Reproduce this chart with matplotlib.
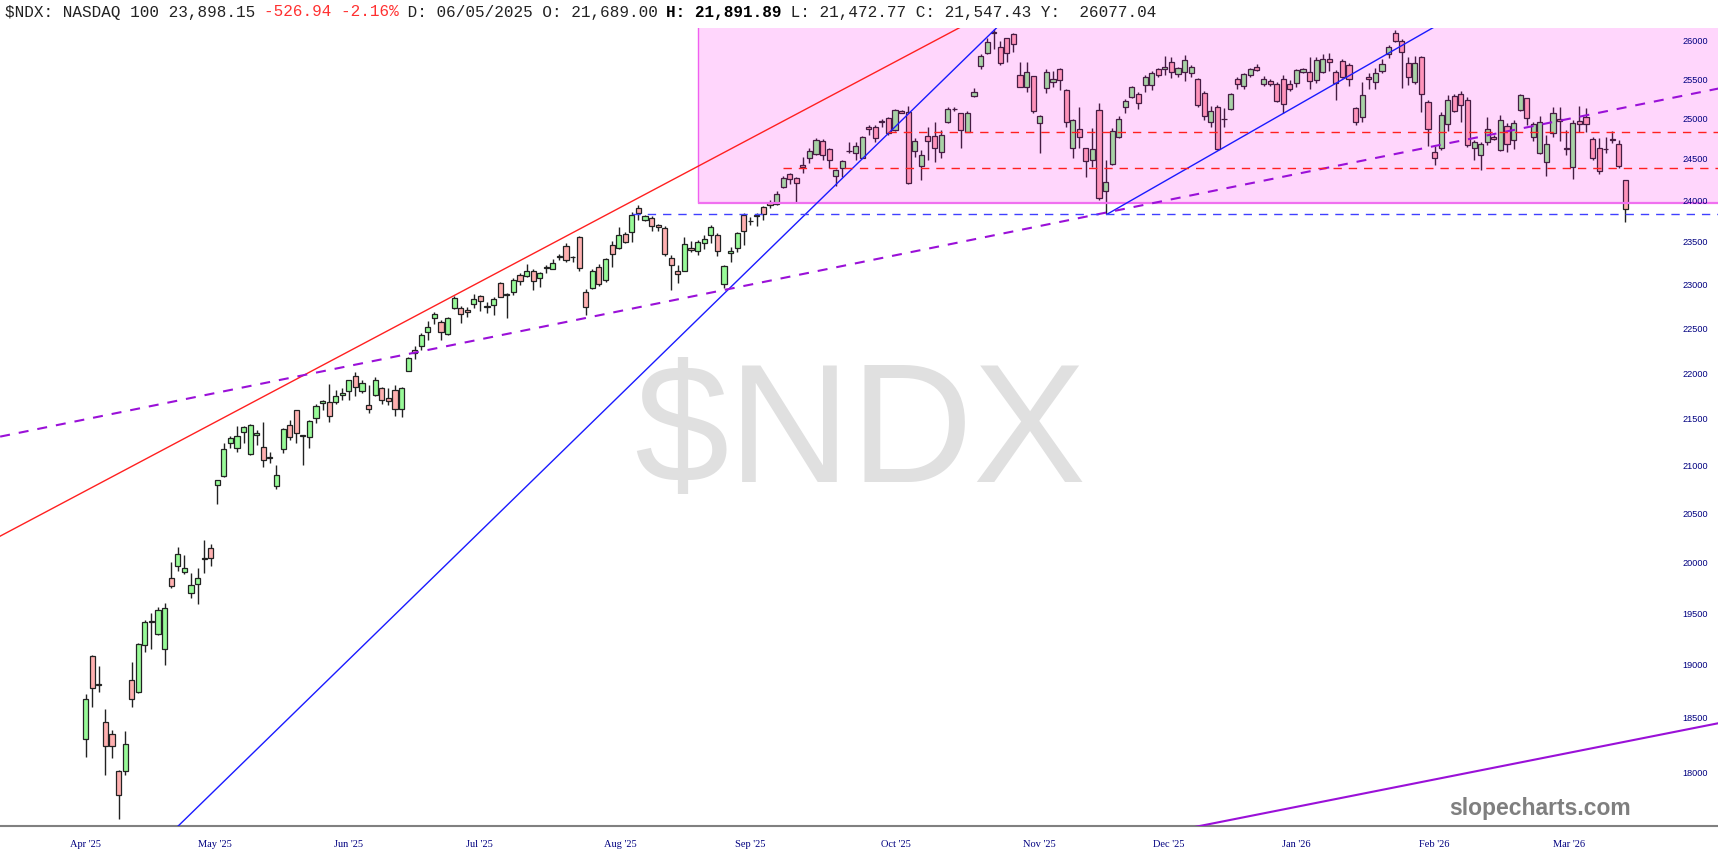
"""
NDX daily candles with trendlines, slopecharts style
"""

import numpy as np
import matplotlib
matplotlib.use("Agg")
import matplotlib.pyplot as plt
from matplotlib.patches import Rectangle
from matplotlib.transforms import blended_transform_factory

# daily OHLC (first candle = Apr 11 2025)
opens = [
    18310, 19090, 18820, 18470, 18360, 18020, 18025, 18865, 18750, 19200,
    19420, 19310, 19160, 19860, 19980, 19920, 19705, 19795, 20050, 20160,
    20810, 20900, 21250, 21195, 21370, 21130, 21335, 21210, 21095, 20800,
    21190, 21440, 21605, 21325, 21320, 21520, 21680, 21689, 21690, 21770,
    21810, 21985, 21815, 21665, 21770, 21850, 21735, 21825, 21620, 22040,
    22265, 22315, 22475, 22625, 22580, 22445, 22740, 22740, 22725, 22790,
    22880, 22755, 22775, 23030, 22890, 22925, 23120, 23110, 23170, 23085,
    23210, 23195, 23335, 23465, 23330, 23575, 22930, 22975, 23220, 23065,
    23470, 23445, 23610, 23635, 23920, 23775, 23795, 23710, 23680, 23325,
    23170, 23175, 23445, 23405, 23495, 23595, 23595, 23015, 23380, 23435,
    23835, 23755, 23815, 23925, 23980, 23960, 24165, 24330, 24275, 24440,
    24520, 24570, 24740, 24635, 24300, 24400, 24605, 24580, 24525, 24915,
    24915, 24970, 25020, 24870, 25115, 25100, 24615, 24430, 24800, 24800,
    24595, 24975, 25130, 25080, 24850, 25300, 25690, 25850, 26130, 25935,
    26045, 26100, 25570, 25420, 25555, 24960, 25405, 25485, 25650, 25375,
    24645, 24885, 24645, 24505, 25125, 24125, 24450, 24780, 25160, 25290,
    25330, 25440, 25435, 25645, 25645, 25740, 25580, 25610, 25590, 25515,
    25345, 24975, 25155, 25005, 25135, 25515, 25430, 25570, 25675, 25450,
    25495, 25455, 25515, 25455, 25465, 25610, 25605, 25505, 25610, 25770,
    25610, 25755, 25700, 25145, 25040, 25540, 25485, 25620, 25840, 26110,
    26015, 25730, 25475, 25795, 25230, 24600, 24645, 24950, 25300, 25320,
    25250, 24650, 24560, 24725, 24790, 24625, 24920, 24750, 25125, 25270,
    24790, 24580, 24480, 24840, 25010, 24640, 24415, 24990, 25040, 24760,
    24645, 24630, 24760, 24695, 24250,
]
highs = [
    18730, 19105, 19000, 18590, 18400, 18030, 18390, 19040, 19220, 19445,
    19510, 19575, 19610, 20015, 20170, 20090, 19910, 19955, 20240, 20200,
    20860, 21250, 21330, 21435, 21435, 21455, 21390, 21475, 21160, 21020,
    21415, 21500, 21610, 21340, 21500, 21675, 21715, 21892, 21825, 21845,
    21935, 22025, 21935, 21880, 21965, 21860, 21845, 21880, 21860, 22195,
    22315, 22455, 22590, 22700, 22610, 22645, 22880, 22765, 22760, 22905,
    22890, 22810, 22865, 23045, 22915, 23085, 23145, 23250, 23190, 23160,
    23240, 23310, 23370, 23495, 23340, 23580, 22960, 23190, 23250, 23320,
    23525, 23690, 23630, 23865, 23950, 23835, 23815, 23720, 23695, 23360,
    23235, 23570, 23525, 23535, 23595, 23715, 23615, 23240, 23455, 23630,
    23855, 23810, 23855, 23940, 24010, 24115, 24305, 24345, 24295, 24540,
    24645, 24770, 24760, 24650, 24390, 24505, 24725, 24725, 24800, 24935,
    24935, 25010, 25040, 25130, 25125, 25175, 24770, 24625, 24915, 24975,
    24870, 25155, 25155, 25090, 25115, 25400, 25835, 26045, 26165, 26015,
    26055, 26120, 25740, 25740, 25560, 25060, 25645, 25615, 25665, 25385,
    25015, 25155, 24650, 24895, 25215, 24505, 24895, 25050, 25260, 25430,
    25355, 25570, 25615, 25655, 25815, 25805, 25675, 25830, 25700, 25525,
    25365, 25175, 25185, 25145, 25340, 25540, 25590, 25665, 25710, 25560,
    25515, 25485, 25570, 25505, 25645, 25655, 25795, 25795, 25840, 25850,
    25635, 25770, 25720, 25165, 25485, 25590, 25665, 25775, 25955, 26155,
    26030, 25805, 25815, 25815, 25250, 24670, 25095, 25315, 25330, 25365,
    25290, 24750, 24725, 25040, 24810, 25060, 24960, 24995, 25325, 25280,
    24975, 25050, 24810, 25165, 25165, 24870, 24995, 25175, 25145, 24790,
    24770, 24780, 24860, 24750, 24260,
]
lows = [
    18150, 18610, 18750, 17990, 18140, 17590, 17985, 18615, 18740, 19130,
    19160, 19300, 19005, 19755, 19930, 19895, 19655, 19600, 19905, 19975,
    20610, 20890, 21195, 21160, 21250, 21125, 21230, 20995, 21035, 20770,
    21145, 21285, 21255, 21020, 21195, 21465, 21610, 21473, 21675, 21715,
    21715, 21760, 21790, 21580, 21760, 21675, 21665, 21540, 21530, 22035,
    22165, 22270, 22380, 22560, 22380, 22435, 22730, 22575, 22645, 22740,
    22715, 22685, 22665, 22865, 22635, 22895, 23010, 23100, 22945, 22990,
    23145, 23190, 23300, 23275, 23270, 23165, 22665, 22965, 23000, 23045,
    23215, 23430, 23500, 23510, 23775, 23755, 23640, 23640, 23340, 22950,
    23035, 23165, 23395, 23360, 23430, 23495, 23340, 22970, 23270, 23395,
    23475, 23710, 23695, 23775, 23910, 23950, 24155, 24200, 23990, 24335,
    24460, 24560, 24500, 24400, 24180, 24295, 24580, 24500, 24520, 24810,
    24720, 24915, 24810, 24865, 25085, 24205, 24540, 24255, 24500, 24480,
    24520, 24960, 25110, 24645, 24845, 25285, 25645, 25840, 25900, 25700,
    25740, 25870, 25415, 25355, 25090, 24590, 25340, 25420, 25375, 24905,
    24520, 24645, 24290, 24415, 24010, 23840, 24440, 24770, 25080, 25270,
    25140, 25355, 25375, 25545, 25570, 25525, 25545, 25495, 25545, 25160,
    24995, 24915, 24620, 24915, 25120, 25395, 25395, 25545, 25620, 25430,
    25430, 25230, 25080, 25365, 25420, 25590, 25385, 25460, 25590, 25620,
    25250, 25525, 25425, 24940, 24975, 25385, 25395, 25590, 25785, 26000,
    25405, 25440, 25450, 25100, 24670, 24440, 24620, 24855, 25095, 24975,
    24655, 24500, 24375, 24685, 24750, 24610, 24600, 24635, 25110, 24940,
    24735, 24570, 24305, 24790, 24735, 24560, 24270, 24850, 24850, 24500,
    24325, 24580, 24710, 24405, 23745,
]
closes = [
    18690, 18790, 18830, 18250, 18250, 17805, 18270, 18690, 19210, 19425,
    19430, 19540, 19560, 19780, 20095, 19960, 19785, 19860, 20060, 20055,
    20860, 21190, 21310, 21330, 21425, 21440, 21355, 21070, 21100, 20910,
    21405, 21315, 21355, 21335, 21485, 21650, 21710, 21547, 21755, 21790,
    21930, 21860, 21905, 21620, 21930, 21715, 21710, 21615, 21845, 22175,
    22235, 22435, 22525, 22670, 22470, 22635, 22855, 22675, 22695, 22850,
    22820, 22770, 22850, 22875, 22900, 23065, 23060, 23165, 23050, 23150,
    23220, 23260, 23340, 23300, 23335, 23205, 22755, 23170, 23015, 23305,
    23375, 23590, 23510, 23830, 23850, 23820, 23700, 23685, 23375, 23240,
    23135, 23485, 23420, 23515, 23550, 23690, 23405, 23225, 23405, 23620,
    23640, 23760, 23835, 23845, 23950, 24080, 24285, 24265, 24215, 24410,
    24615, 24750, 24565, 24500, 24375, 24490, 24615, 24670, 24790, 24880,
    24775, 24980, 24830, 25125, 25090, 24215, 24740, 24565, 24740, 24645,
    24805, 25130, 25135, 24870, 25080, 25350, 25815, 26000, 26110, 25720,
    25850, 25965, 25420, 25605, 25115, 25045, 25605, 25520, 25505, 24975,
    24995, 24790, 24490, 24630, 24040, 24230, 24860, 25010, 25235, 25420,
    25215, 25540, 25590, 25570, 25675, 25610, 25655, 25765, 25675, 25180,
    25050, 25115, 24630, 25010, 25330, 25450, 25580, 25645, 25635, 25515,
    25450, 25235, 25195, 25390, 25630, 25645, 25495, 25760, 25770, 25740,
    25460, 25540, 25515, 24975, 25315, 25515, 25590, 25710, 25925, 26015,
    25870, 25540, 25730, 25320, 24880, 24530, 25060, 25250, 25115, 25180,
    24680, 24720, 24695, 24885, 24755, 24995, 24695, 24960, 25315, 25025,
    24945, 24975, 24700, 25080, 24990, 24650, 24955, 24945, 24945, 24520,
    24370, 24640, 24745, 24425, 23898,
]

month_labels = ["Apr '25", "May '25", "Jun '25", "Jul '25", "Aug '25", "Sep '25",
                "Oct '25", "Nov '25", "Dec '25", "Jan '26", "Feb '26", "Mar '26"]
month_pos = [-0.1, 19.65, 40.0, 59.9, 81.3, 101.0, 123.1, 145.0, 164.6, 184.0, 204.9, 225.4]

price_ticks = list(range(18000, 26001, 500))

# drawn annotations: (bar index, price) end points
red_trend = ([-13.0, 139.0], [20280, 26470])
blue_trend = ([12.8, 139.0], [17460, 26230])
purple_channel = ([-13.0, 248.1], [21320, 25395])
blue_trend2 = ([155.2, 207.3], [23840, 26310])
purple_low = ([161.8, 248.1], [17445, 18460])
blue_level = (83, 23843)
red_level_hi = (122, 24845)
red_level_lo = (106, 24405)
box_left, box_low, box_high = 93.1, 23970, 27000

o = np.array(opens, dtype=float)
h = np.array(highs, dtype=float)
l = np.array(lows, dtype=float)
c = np.array(closes, dtype=float)
x = np.arange(len(c))

fig = plt.figure(figsize=(17.18, 8.66), dpi=100)
fig.patch.set_facecolor("white")
ax = fig.add_axes([0, 40 / 866, 1, 798 / 866])
ax.set_yscale("log")
ax.set_xlim(-13.02, 248.07)
ax.set_ylim(17531, 26180)

# watermark
ax.text(0.5006, 0.4311, "$NDX", transform=ax.transAxes, ha="center", va="baseline",
        fontsize=122, family="Liberation Sans", color="#e0e0e0", zorder=0)

# candles
edge = "#222222"
up = c >= o
lo_b = np.minimum(o, c)
hi_b = np.maximum(o, c)
ax.vlines(x, l, h, color=edge, lw=1.0, zorder=2)
ax.bar(x[up], hi_b[up] - lo_b[up], bottom=lo_b[up], width=0.78,
       color="#98fb98", edgecolor=edge, lw=0.9, zorder=3)
ax.bar(x[~up], hi_b[~up] - lo_b[~up], bottom=lo_b[~up], width=0.78,
       color="#ffb0b0", edgecolor=edge, lw=0.9, zorder=3)

# pink zone laid over the candles
ax.add_patch(Rectangle((box_left, box_low), 300, box_high - box_low,
                       facecolor=(1.0, 0.0, 0.95, 0.16), edgecolor="none", zorder=4))
ax.vlines(box_left, box_low, box_high, color="#f060f0", lw=1.0, zorder=4)
ax.hlines(box_low, box_left, 260, color="#f070f0", lw=1.6, zorder=4)

# trendlines and levels
ax.plot(*red_trend, color="#ff2020", lw=1.0, zorder=5)
ax.plot(*blue_trend, color="#1a1aff", lw=1.0, zorder=5)
ax.plot(*blue_trend2, color="#1a1aff", lw=1.0, zorder=5)
ax.plot(*purple_channel, color="#9a10d8", lw=1.5, ls=(0, (4.8, 4.3)), zorder=5)
ax.plot(*purple_low, color="#9a10d8", lw=1.5, zorder=5)
ax.hlines(blue_level[1], blue_level[0], 260, color="#4040ff", lw=1.0, ls=(0, (6, 5)), zorder=5)
ax.hlines(red_level_hi[1], red_level_hi[0], 260, color="#ff2020", lw=1.0, ls=(0, (6, 5)), zorder=5)
ax.hlines(red_level_lo[1], red_level_lo[0], 260, color="#ff2020", lw=1.0, ls=(0, (6, 5)), zorder=5)

# axes cosmetics
ax.set_xticks([])
ax.set_yticks([])
ax.set_yticks([], minor=True)
for s in ["top", "left", "right"]:
    ax.spines[s].set_visible(False)
ax.spines["bottom"].set_color("#808080")
ax.spines["bottom"].set_linewidth(1.5)

ytr = blended_transform_factory(ax.transAxes, ax.transData)
for v in price_ticks:
    ax.text(0.9869, v, str(v), transform=ytr, ha="center", va="center",
            fontsize=6.6, family="Liberation Sans", color="#000080", zorder=6)

xtr = blended_transform_factory(ax.transData, ax.transAxes)
for pos, lab in zip(month_pos, month_labels):
    ax.text(pos, -0.0238, lab, transform=xtr, ha="center", va="center",
            fontsize=7.5, family="Liberation Serif", color="#000080", clip_on=False)

# header line, monospace so each piece can be placed by character count
hdr_size = 11.5
adv = 0.6 * hdr_size * 100 / 72 / 1718
x0 = 5 / 1718
y0 = 1 - 12 / 866
pieces = [
    ("$NDX: NASDAQ 100 23,898.15 ", "#222222", "normal"),
    ("-526.94 -2.16%", "#ff3030", "normal"),
    (" D: 06/05/2025 O: 21,689.00 ", "#222222", "normal"),
    ("H: 21,891.89", "#000000", "bold"),
    (" L: 21,472.77 C: 21,547.43 Y:  26077.04", "#222222", "normal"),
]
n = 0
for txt, col, wt in pieces:
    fig.text(x0 + n * adv, y0, txt, ha="left", va="center", fontsize=hdr_size,
             family="Liberation Mono", color=col, fontweight=wt)
    n += len(txt)

fig.text(1540 / 1718, 1 - 809 / 866, "slopecharts.com", ha="center", va="center",
         fontsize=16.5, fontweight="bold", family="Liberation Sans", color="#7f7f7f")

fig.savefig("out.png", dpi=100)
